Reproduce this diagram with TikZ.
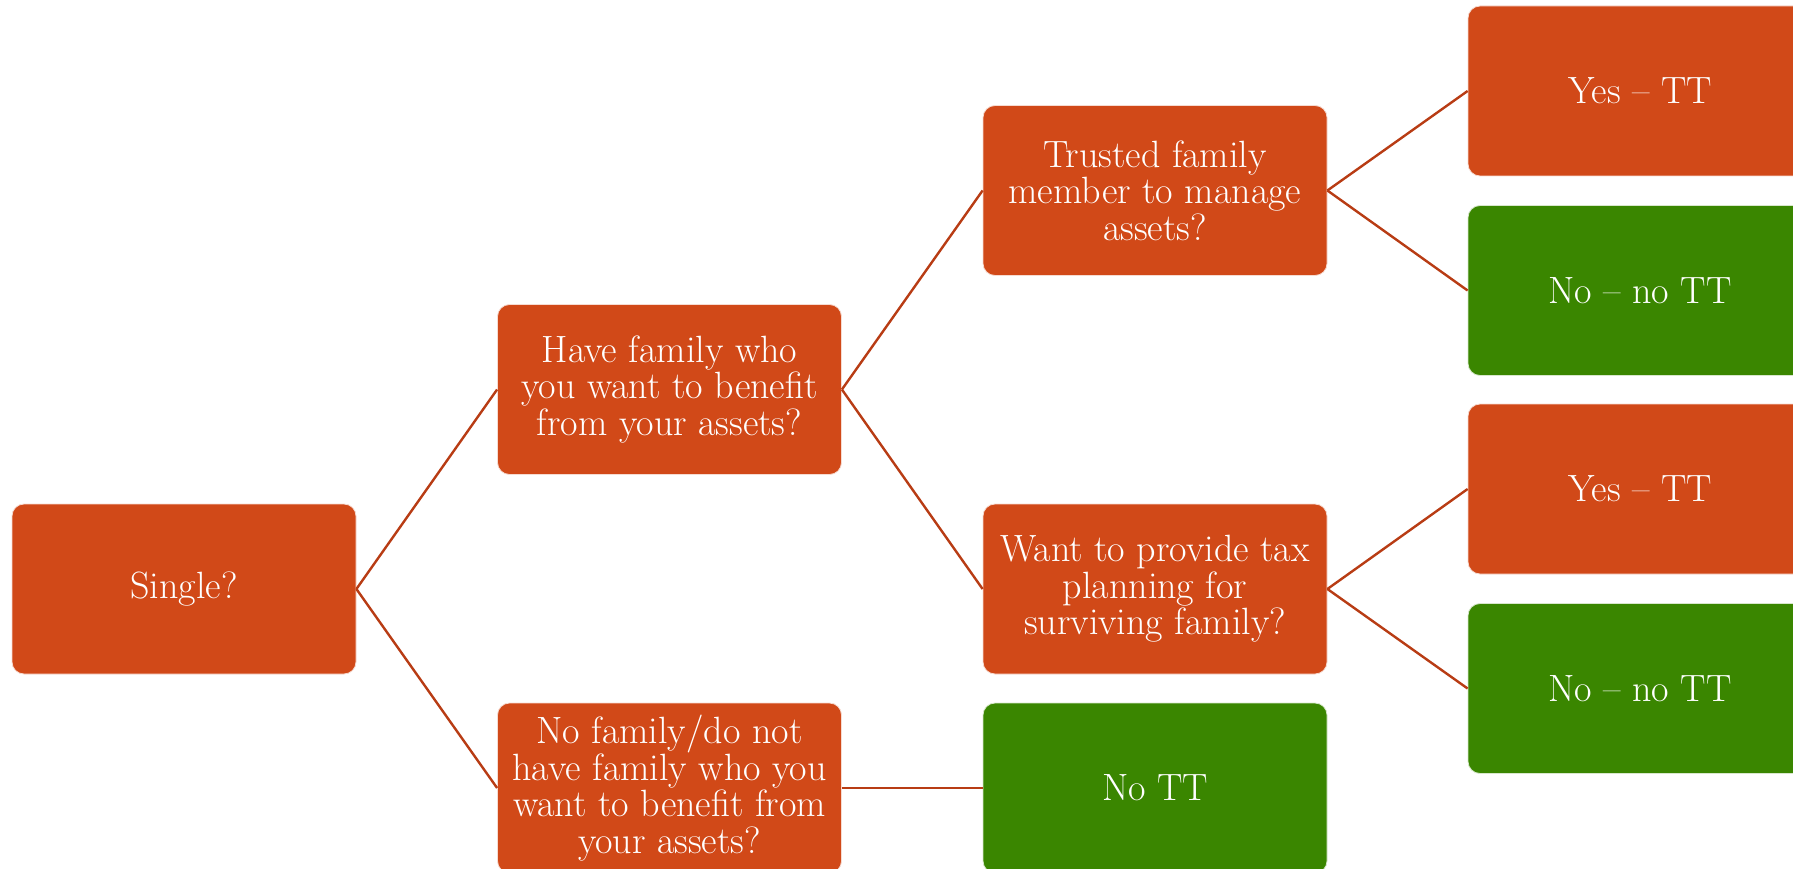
\documentclass[tikz,border=0pt]{standalone}
\usepackage{tikz}
\definecolor{boxorange}{HTML}{D14918}
\definecolor{boxgreen}{HTML}{3A8600}
\definecolor{linkcol}{HTML}{B83C14}
\tikzset{
  box/.style={rounded corners=12pt, minimum width=344pt, minimum height=170pt,
    text=white, align=center, inner sep=0pt, draw=white!80!boxorange, line width=0.8pt,
    font=\fontsize{38}{36.6}\selectfont},
  obox/.style={box, fill=boxorange},
  gbox/.style={box, fill=boxgreen, draw=white!80!boxgreen},
  link/.style={draw=linkcol, line width=2.4pt},
}
\begin{document}
\begin{tikzpicture}[x=1pt,y=-1pt]
\useasboundingbox (0,0) rectangle (1793,869);
\clip (0,0) rectangle (1793,869);
\node[obox] (single) at (184,589) {Single?};
\node[obox] (have) at (669.5,389.5) {Have family who\\you want to benefit\\from your assets?};
\node[obox] (nofam) at (669.5,788) {No family/do not\\have family who you\\want to benefit from\\your assets?};
\node[obox] (trusted) at (1155,190.5) {Trusted family\\member to manage\\assets?};
\node[obox] (want) at (1155,589) {Want to provide tax\\planning for\\surviving family?};
\node[gbox] (nott) at (1155,788) {No TT};
\node[obox] (yes1) at (1640,91) {Yes -- TT};
\node[gbox] (no1) at (1640,290.5) {No -- no TT};
\node[obox] (yes2) at (1640,489) {Yes -- TT};
\node[gbox] (no2) at (1640,688.5) {No -- no TT};
\draw[link] (single.east) -- (have.west);
\draw[link] (single.east) -- (nofam.west);
\draw[link] (have.east) -- (trusted.west);
\draw[link] (have.east) -- (want.west);
\draw[link] (nofam.east) -- (nott.west);
\draw[link] (trusted.east) -- (yes1.west);
\draw[link] (trusted.east) -- (no1.west);
\draw[link] (want.east) -- (yes2.west);
\draw[link] (want.east) -- (no2.west);
\end{tikzpicture}
\end{document}
